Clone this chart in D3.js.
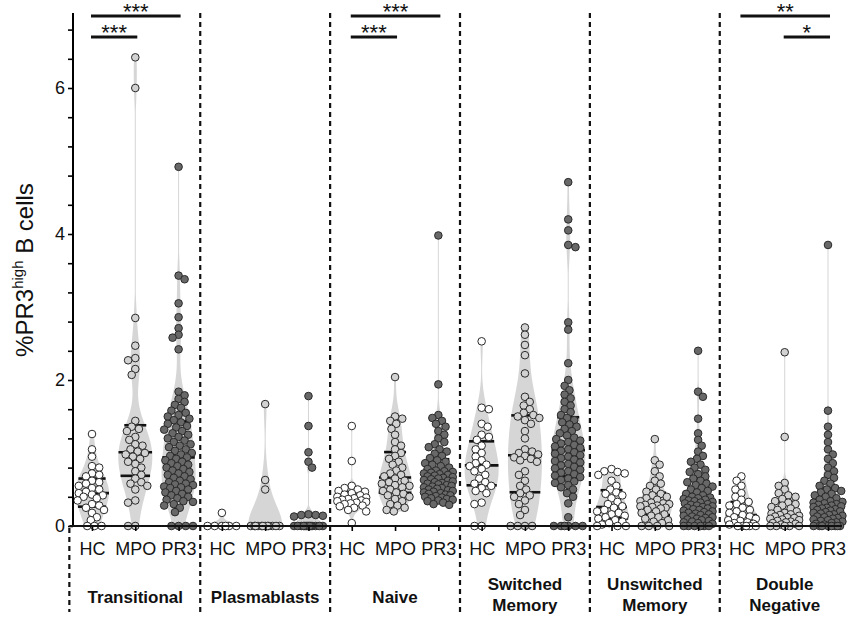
<!DOCTYPE html>
<html><head><meta charset="utf-8">
<script src="https://cdn.jsdelivr.net/npm/d3@7"></script>
<style>
html,body{margin:0;padding:0;background:#fff;}
svg{display:block;font-family:"Liberation Sans",Arial,sans-serif;}
</style></head>
<body><svg id="c" width="854" height="622"></svg>
<script>
// ---------------- DATA ----------------
const groupLabels = [["Transitional"],["Plasmablasts"],["Naive"],["Switched","Memory"],["Unswitched","Memory"],["Double","Negative"]];
const cohorts = ["HC","MPO","PR3"];
const yTickValues = d3.range(0,18).map(i => i*0.4);
const yTickLabels = [0,2,4,6];

const transHC = [1.26,1.05,0.95,0.82,0.80,0.72,0.70,0.68,0.62,0.60,0.58,0.55,0.52,0.50,0.47,0.45,0.43,0.42,0.40,0.38,0.35,0.30,0.28,0.25,0.22,0.18,0.12,0.08,0,0,0];
const transMPO = [6.42,6.00,2.85,2.47,2.30,2.27,2.15,2.07,1.44,1.36,1.33,1.30,1.22,1.18,1.12,1.10,1.05,1.02,1.00,0.98,0.95,0.92,0.88,0.85,0.80,0.75,0.70,0.65,0.60,0.58,0.55,0.50,0.35,0.32,0,0];
const transPR3 = [4.92,3.43,3.38,3.05,2.86,2.71,2.62,2.58,2.42,1.84,1.79,1.74,1.70,1.66,1.62,1.58,1.55,1.52,1.50,1.47,1.45,1.42,1.40,1.37,1.35,1.32,1.30,1.27,1.25,1.22,1.20,1.17,1.15,1.12,1.10,1.08,1.05,1.03,1.00,0.98,0.96,0.94,0.92,0.90,0.88,0.86,0.84,0.82,0.80,0.78,0.76,0.74,0.72,0.70,0.68,0.66,0.64,0.62,0.60,0.58,0.57,0.56,0.54,0.53,0.52,0.50,0.48,0.46,0.44,0.42,0.40,0.38,0.36,0.34,0.33,0.30,0.28,0.25,0.19,0,0,0,0];

const plasHC = [0.18,0,0,0,0,0,0];
const plasMPO = [1.67,0.63,0.50,0,0,0,0,0,0,0,0,0,0,0,0];
const plasPR3 = [1.78,1.37,1.01,0.88,0.80,0.16,0.15,0.15,0.14,0.13,0,0,0,0,0,0,0,0,0,0,0,0,0,0];

const naiveHC = [1.37,0.89,0.55,0.52,0.50,0.48,0.47,0.45,0.43,0.42,0.40,0.39,0.38,0.37,0.36,0.35,0.34,0.33,0.32,0.31,0.30,0.28,0.27,0.25,0.22,0.20,0.04];
const naiveMPO = [2.04,1.50,1.47,1.44,1.40,1.33,1.25,1.15,1.10,1.05,1.00,0.96,0.92,0.88,0.84,0.80,0.76,0.72,0.70,0.68,0.65,0.62,0.60,0.58,0.56,0.55,0.53,0.50,0.48,0.46,0.44,0.42,0.40,0.37,0.34,0.30,0.28,0.25,0.22,0.20];
const naivePR3 = [3.98,1.94,1.52,1.48,1.44,1.40,1.36,1.30,1.25,1.20,1.15,1.12,1.08,1.05,1.02,0.99,0.96,0.93,0.90,0.88,0.86,0.84,0.82,0.80,0.78,0.76,0.75,0.74,0.73,0.72,0.71,0.70,0.69,0.68,0.67,0.66,0.65,0.64,0.63,0.62,0.61,0.60,0.59,0.58,0.57,0.56,0.55,0.54,0.53,0.52,0.51,0.50,0.49,0.48,0.47,0.46,0.45,0.44,0.43,0.42,0.41,0.40,0.39,0.38,0.37,0.36,0.35,0.34,0.32,0.30,0.29];

const swHC = [2.53,1.62,1.60,1.40,1.36,1.25,1.22,1.18,1.10,1.05,1.00,0.95,0.90,0.86,0.84,0.82,0.78,0.75,0.70,0.65,0.60,0.58,0.55,0.52,0.48,0.45,0.32,0.30,0,0];
const swMPO = [2.72,2.62,2.48,2.34,2.09,1.77,1.70,1.65,1.60,1.55,1.52,1.50,1.48,1.45,1.40,1.30,1.20,1.05,1.02,1.00,0.98,0.96,0.94,0.92,0.90,0.88,0.75,0.70,0.62,0.55,0.50,0.45,0.42,0.40,0.35,0.30,0.22,0.15,0,0,0,0];
const swPR3 = [4.71,4.20,4.05,3.85,3.82,2.79,2.69,2.23,2.00,1.92,1.86,1.80,1.75,1.70,1.65,1.60,1.56,1.52,1.48,1.45,1.42,1.39,1.36,1.33,1.30,1.27,1.24,1.21,1.19,1.17,1.15,1.13,1.11,1.09,1.07,1.05,1.03,1.01,0.99,0.97,0.95,0.93,0.91,0.89,0.87,0.85,0.83,0.81,0.79,0.77,0.75,0.73,0.71,0.69,0.67,0.65,0.63,0.61,0.59,0.56,0.53,0.50,0.45,0.40,0.31,0.12,0,0,0,0,0,0];

const unHC = [0.78,0.75,0.74,0.72,0.70,0.62,0.55,0.50,0.46,0.44,0.42,0.38,0.33,0.30,0.27,0.25,0.22,0.20,0.18,0.16,0.14,0.12,0.10,0.08,0.06,0.04,0.02,0,0,0];
const unMPO = [1.19,0.90,0.84,0.75,0.68,0.62,0.58,0.55,0.50,0.47,0.44,0.42,0.40,0.38,0.36,0.34,0.32,0.31,0.30,0.29,0.28,0.27,0.26,0.25,0.24,0.22,0.20,0.18,0.16,0.14,0.12,0.10,0.08,0.06,0.04,0,0,0,0];
const unPR3 = [2.40,1.84,1.77,1.47,1.27,1.18,1.10,1.02,0.96,0.92,0.88,0.84,0.80,0.77,0.74,0.71,0.68,0.65,0.62,0.60,0.58,0.56,0.54,0.52,0.50,0.48,0.46,0.44,0.42,0.40,0.39,0.38,0.37,0.36,0.35,0.34,0.33,0.32,0.31,0.30,0.29,0.28,0.27,0.26,0.25,0.24,0.23,0.22,0.21,0.20,0.19,0.18,0.17,0.16,0.15,0.14,0.13,0.12,0.11,0.10,0.09,0.08,0.07,0.06,0.05,0.04,0.03,0,0,0,0,0,0];

const dnHC = [0.68,0.62,0.55,0.50,0.45,0.40,0.36,0.33,0.30,0.28,0.25,0.22,0.20,0.18,0.15,0.13,0.12,0.10,0.08,0.07,0.05,0.04,0.03,0.02,0,0,0,0,0];
const dnMPO = [2.38,1.22,0.59,0.55,0.50,0.45,0.42,0.40,0.37,0.34,0.32,0.30,0.28,0.26,0.24,0.22,0.20,0.18,0.17,0.16,0.15,0.14,0.13,0.12,0.11,0.10,0.09,0.08,0.07,0.06,0.05,0.04,0.03,0.02,0,0,0,0,0];
const dnPR3 = [3.85,1.58,1.36,1.25,1.15,1.05,0.98,0.92,0.86,0.80,0.75,0.70,0.66,0.62,0.58,0.55,0.52,0.50,0.48,0.46,0.44,0.42,0.40,0.38,0.36,0.34,0.33,0.32,0.31,0.30,0.29,0.28,0.27,0.26,0.25,0.24,0.23,0.22,0.21,0.20,0.19,0.18,0.17,0.16,0.15,0.14,0.13,0.12,0.11,0.10,0.09,0.08,0.07,0.06,0.05,0.04,0.03,0.02,0,0,0,0,0,0,0,0];

const seriesByGroup = [
  [transHC, transMPO, transPR3],
  [plasHC, plasMPO, plasPR3],
  [naiveHC, naiveMPO, naivePR3],
  [swHC, swMPO, swPR3],
  [unHC, unMPO, unPR3],
  [dnHC, dnMPO, dnPR3]
];
const sigBars = [
  {group:0, from:"HC", to:"PR3", label:"***", level:0},
  {group:0, from:"HC", to:"MPO", label:"***", level:1},
  {group:2, from:"HC", to:"PR3", label:"***", level:0},
  {group:2, from:"HC", to:"MPO", label:"***", level:1},
  {group:5, from:"HC", to:"PR3", label:"**", level:0},
  {group:5, from:"MPO", to:"PR3", label:"*", level:1}
];

// ---------------- STYLE ----------------
const pointFill = {HC:"#ffffff", MPO:"#d2d2d2", PR3:"#686868"};
const violinFill = "#d6d6d6";
const R = 3.8;

// ---------------- SCALES ----------------
const svg = d3.select("#c");
const keys = [];
groupLabels.forEach((g,gi) => cohorts.forEach(c => keys.push(gi+"|"+c)));
const x = d3.scalePoint().domain(keys).range([92, 828]);
const step = x.step();
const y = d3.scaleLinear().domain([0, 7]).range([526, 15]);
const X0 = 73;

// separators
const sepXs = [x(keys[0]) - step/2 - 1];
for (let g = 1; g < groupLabels.length; g++) {
  sepXs.push((x((g-1)+"|PR3") + x(g+"|HC"))/2);
}
svg.append("g").selectAll("line").data(sepXs).join("line")
  .attr("x1", d => d).attr("x2", d => d)
  .attr("y1", (d,i) => i === 0 ? y(0)+2 : 13).attr("y2", 612)
  .attr("stroke", "#111").attr("stroke-width", 2.2).attr("stroke-dasharray", "5,4");

// ---------------- VIOLINS ----------------
function bandwidth(vals) {
  const n = vals.length;
  const sd = d3.deviation(vals) || 0;
  const s = vals.slice().sort(d3.ascending);
  const iqr = (d3.quantile(s, 0.75) - d3.quantile(s, 0.25)) / 1.34;
  let m = iqr > 0 ? Math.min(sd, iqr) : sd;
  return Math.max(1.15 * 0.9 * m * Math.pow(n, -0.2), 0.03);
}
const violinLayer = svg.append("g");
const lineLayer = svg.append("g");
const pointLayer = svg.append("g");
const HALF = 17;

seriesByGroup.forEach((series, gi) => {
  series.forEach((vals, ci) => {
    const key = gi + "|" + cohorts[ci];
    const cx = x(key);
    const lo = d3.min(vals), hi = d3.max(vals);
    const h = bandwidth(vals);
    const dens = v => d3.sum(vals, xi => Math.exp(-0.5 * ((v - xi)/h) ** 2));
    const grid = d3.range(0, 161).map(i => lo + (hi - lo) * i / 160);
    const dvals = grid.map(dens);
    const dmax = d3.max(dvals);
    const wScale = d3.scaleLinear().domain([0, dmax]).range([0, HALF]);
    const widthAt = v => Math.max(wScale(dens(v)), 0.5);
    if (hi > lo) {
      const pts = grid.map((v,i) => ({v, w: Math.max(wScale(dvals[i]), 0.5)}));
      const area = d3.area()
        .y(d => y(d.v)).x0(d => cx - d.w).x1(d => cx + d.w)
        .curve(d3.curveCatmullRom);
      violinLayer.append("path").datum(pts).attr("d", area)
        .attr("fill", violinFill).attr("stroke", "none");
    }
    // median & quartiles
    const s = vals.slice().sort(d3.ascending);
    [0.25, 0.5, 0.75].forEach(q => {
      const v = d3.quantile(s, q);
      const w = Math.max(widthAt(v), 11);
      lineLayer.append("line")
        .attr("x1", cx - w).attr("x2", cx + w)
        .attr("y1", y(v)).attr("y2", y(v))
        .attr("stroke", "#111").attr("stroke-width", 2.6);
    });
    // beeswarm points
    const placed = [];
    const sorted = vals.map(v => ({v, py: y(v)})).sort((a,b) => b.v - a.v);
    const minD = 2 * R * 0.85;
    const dx = 1.2, maxOff = 14.5;
    sorted.forEach((p, idx) => {
      let bestX = cx, bestScore = -1;
      const sgnFirst = idx % 2 === 0 ? 1 : -1;
      outer:
      for (let k = 0; k * dx <= maxOff; k++) {
        const cands = k === 0 ? [0] : [sgnFirst, -sgnFirst];
        for (const sg of cands) {
          const px = cx + sg * k * dx;
          let md = Infinity;
          for (const q of placed) {
            const dd = Math.hypot(q.px - px, q.py - p.py);
            if (dd < md) md = dd;
          }
          if (md >= minD) { bestX = px; break outer; }
          if (md > bestScore) { bestScore = md; bestX = px; }
        }
      }
      placed.push({px: bestX, py: p.py, v: p.v});
    });
    pointLayer.selectAll(null).data(placed).join("circle")
      .attr("cx", d => d.px).attr("cy", d => d.py).attr("r", R)
      .attr("fill", pointFill[cohorts[ci]]).attr("stroke", "#2a2a2a").attr("stroke-width", 1);
  });
});

// ---------------- AXES ----------------
const yAxis = d3.axisLeft(y).tickValues(yTickValues).tickSize(5).tickSizeOuter(0)
  .tickFormat(d => {
    const r = Math.round(d);
    return (Math.abs(d - r) < 1e-6 && yTickLabels.includes(r)) ? String(r) : "";
  });
const gy = svg.append("g").attr("transform", `translate(${X0},0)`).call(yAxis);
gy.select(".domain").attr("stroke-width", 2).attr("d", `M0,${y(0)}V13`);
gy.selectAll(".tick line").attr("stroke-width", 1.6);
gy.selectAll("text").attr("font-size", 18).attr("fill", "#111").attr("x", -8)
  .attr("font-family", "Liberation Sans, Arial, sans-serif");

const xAxis = d3.axisBottom(x).tickSize(5).tickPadding(11).tickFormat(k => k.split("|")[1]);
const gx = svg.append("g").attr("transform", `translate(0,${y(0)})`).call(xAxis);
gx.select(".domain").remove();
gx.selectAll(".tick line").attr("stroke-width", 1.6);
gx.selectAll("text").attr("font-size", 18).attr("fill", "#111")
  .attr("font-family", "Liberation Sans, Arial, sans-serif");
svg.append("line").attr("x1", sepXs[0]).attr("x2", 842).attr("y1", y(0)).attr("y2", y(0))
  .attr("stroke", "#111").attr("stroke-width", 2);

// Y title
const yt = svg.append("text").attr("transform", "translate(33,270) rotate(-90)")
  .attr("text-anchor", "middle").attr("font-size", 24).attr("fill", "#111");
yt.append("tspan").text("%PR3");
yt.append("tspan").text("high").attr("font-size", 15).attr("dy", -10);
yt.append("tspan").text(" B cells").attr("dy", 10);

// group labels
groupLabels.forEach((lines, gi) => {
  const cx = x(gi + "|MPO");
  const t = svg.append("text").attr("text-anchor", "middle").attr("font-weight", "bold")
    .attr("font-size", 17).attr("fill", "#111");
  if (lines.length === 1) {
    t.append("tspan").attr("x", cx).attr("y", 603).text(lines[0]);
  } else {
    t.append("tspan").attr("x", cx).attr("y", 590).text(lines[0]);
    t.append("tspan").attr("x", cx).attr("y", 611).text(lines[1]);
  }
});

// significance bars
const barY = [16, 37];
sigBars.forEach(b => {
  const x1 = x(b.group + "|" + b.from) - 1, x2 = x(b.group + "|" + b.to) + 2;
  const yy = barY[b.level];
  svg.append("line").attr("x1", x1).attr("x2", x2).attr("y1", yy).attr("y2", yy)
    .attr("stroke", "#111").attr("stroke-width", 3);
  svg.append("text").attr("x", (x1 + x2)/2).attr("y", yy + 3)
    .attr("text-anchor", "middle").attr("font-size", 22).attr("fill", "#111").text(b.label);
});
</script></body></html>
